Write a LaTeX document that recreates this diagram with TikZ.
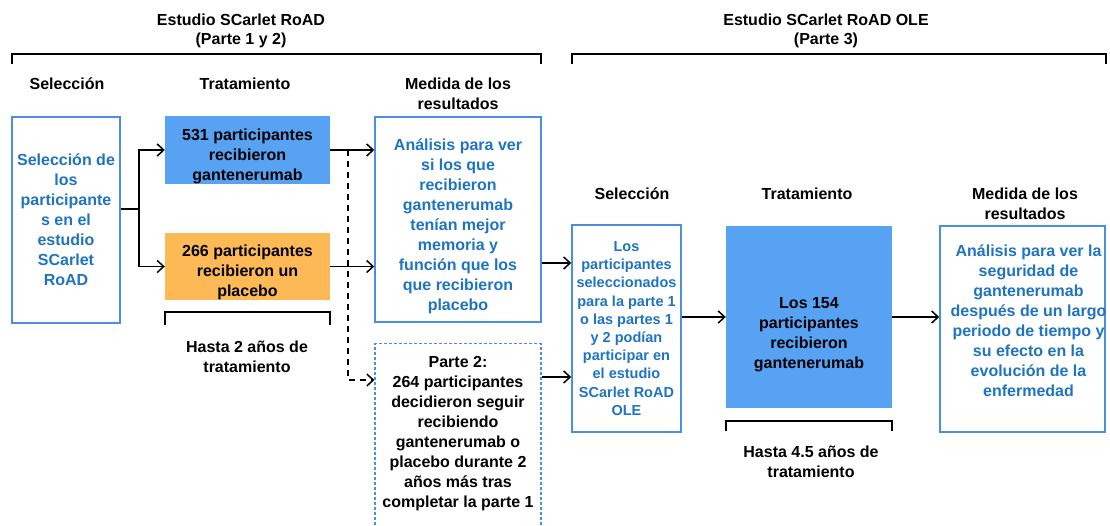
\documentclass[tikz,border=0pt]{standalone}
\usepackage{fontspec}
\setmainfont{Liberation Sans}
\usetikzlibrary{arrows.meta}

\definecolor{armblue}{HTML}{57A2F3}
\definecolor{armorange}{HTML}{FDB956}
\definecolor{edgeblue}{HTML}{4A90E2}
\definecolor{textblue}{HTML}{1E73C2}

\tikzset{
  outbox/.style={draw=edgeblue, line width=1.5pt, text=textblue, align=center, inner sep=0pt},
  armbox/.style={inner sep=0pt, align=center},
  conn/.style={line width=1.5pt, -{Straight Barb[length=6.5pt,width=12pt]}},
  brace/.style={line width=1.5pt},
}

\begin{document}
\begin{tikzpicture}[x=1pt, y=-1pt, every node/.style={font=\fontsize{16}{20}\selectfont\bfseries, align=center}]
  \useasboundingbox (0,0) rectangle (1110,526);

  % study titles and brackets
  \node[font=\fontsize{16}{19}\selectfont\bfseries] (study1) at (241,31) {Estudio SCarlet RoAD\\(Parte 1 y 2)};
  \node[font=\fontsize{16}{19}\selectfont\bfseries] (study2) at (826,31) {Estudio SCarlet RoAD OLE\\(Parte 3)};
  \draw[brace] (12,64) -- (12,54) -- (541,54) -- (541,64);
  \draw[brace] (572,64) -- (572,54) -- (1106,54) -- (1106,64);

  % column headers
  \node (hsel1) at (67,84) {Selección};
  \node (htrt1) at (245,84) {Tratamiento};
  \node (hmed1) at (458,94) {Medida de los\\resultados};
  \node (hsel2) at (632,194) {Selección};
  \node (htrt2) at (807,194) {Tratamiento};
  \node (hmed2) at (1025,204) {Medida de los\\resultados};

  % part 1 and 2
  \node[outbox, minimum width=108, minimum height=206] (sel) at (66,220)
    {Selección de\\los\\participante\\s en el\\estudio\\SCarlet\\RoAD};
  \node[armbox, fill=armblue, minimum width=165, minimum height=68,
    label={[align=center, yshift=-6pt]center:531 participantes\\recibieron\\gantenerumab}] (g531) at (247.5,150) {};
  \node[armbox, fill=armorange, minimum width=165, minimum height=67,
    label={[align=center, yshift=-6pt]center:266 participantes\\recibieron un\\placebo}] (g266) at (247.5,266.5) {};
  \node[outbox, minimum width=166, minimum height=205,
    label={[align=center, text=textblue, yshift=-7pt]center:Análisis para ver\\si los que\\recibieron\\gantenerumab\\tenían mejor\\memoria y\\función que los\\que recibieron\\placebo}] (med1) at (458,219.5) {};
  \node[outbox, dash pattern=on 3pt off 2pt, line width=1.2pt, minimum width=166, minimum height=200, anchor=north] (part2) at (458,343) {};
  \node (part2txt) at (458,434) {Parte 2:\\264 participantes\\decidieron seguir\\recibiendo\\gantenerumab o\\placebo durante 2\\años más tras\\completar la parte 1};

  \draw[brace] (165,325) -- (165,312) -- (330,312) -- (330,325);
  \node (dur1) at (247,357) {Hasta 2 años de\\tratamiento};

  % part 3
  \node[outbox, font=\fontsize{14.5}{18.2}\selectfont\bfseries, minimum width=109, minimum height=207] (sel2) at (626.5,328.5)
    {Los\\participantes\\seleccionados\\para la parte 1\\o las partes 1\\y 2 podían\\participar en\\el estudio\\SCarlet RoAD\\OLE};
  \node[armbox, fill=armblue, minimum width=166, minimum height=182,
    label={[align=center, yshift=-18pt]center:Los 154\\participantes\\recibieron\\gantenerumab}] (g154) at (809,317) {};
  \node[outbox, minimum width=165, minimum height=206,
    label={[align=center, text=textblue, xshift=6pt, yshift=8pt]center:Análisis para ver la\\seguridad de\\gantenerumab\\después de un largo\\periodo de tiempo y\\su efecto en la\\evolución de la\\enfermedad}] (med2) at (1022.5,329) {};

  \draw[brace] (726,431) -- (726,421) -- (892,421) -- (892,431);
  \node (dur2) at (811,462) {Hasta 4.5 años de\\tratamiento};

  % connectors
  \coordinate (fork) at (139,209);
  \draw[line width=1.5pt] (sel.east |- fork) -- (fork);
  \draw[conn] (fork) |- (g531.west);
  \draw[conn] (fork) |- (g266.west);
  \draw[conn] (g531.east) -- (g531.east -| med1.west);
  \draw[conn] (g266.east) -- (g266.east -| med1.west);
  \coordinate (dsplit) at (348,150);
  \draw[conn, dash pattern=on 6pt off 5pt] (dsplit) |- ([yshift=-37pt]part2.north west);
  \coordinate (m1out) at ([yshift=-43.5pt]med1.east);
  \draw[conn] (m1out) -- (m1out -| sel2.west);
  \coordinate (p2out) at ([yshift=-34pt]part2.north east);
  \draw[conn] (p2out) -- (p2out -| sel2.west);
  \draw[conn] (sel2.east |- g154.west) -- (g154.west);
  \draw[conn] (g154.east) -- (g154.east -| med2.west);
\end{tikzpicture}
\end{document}
